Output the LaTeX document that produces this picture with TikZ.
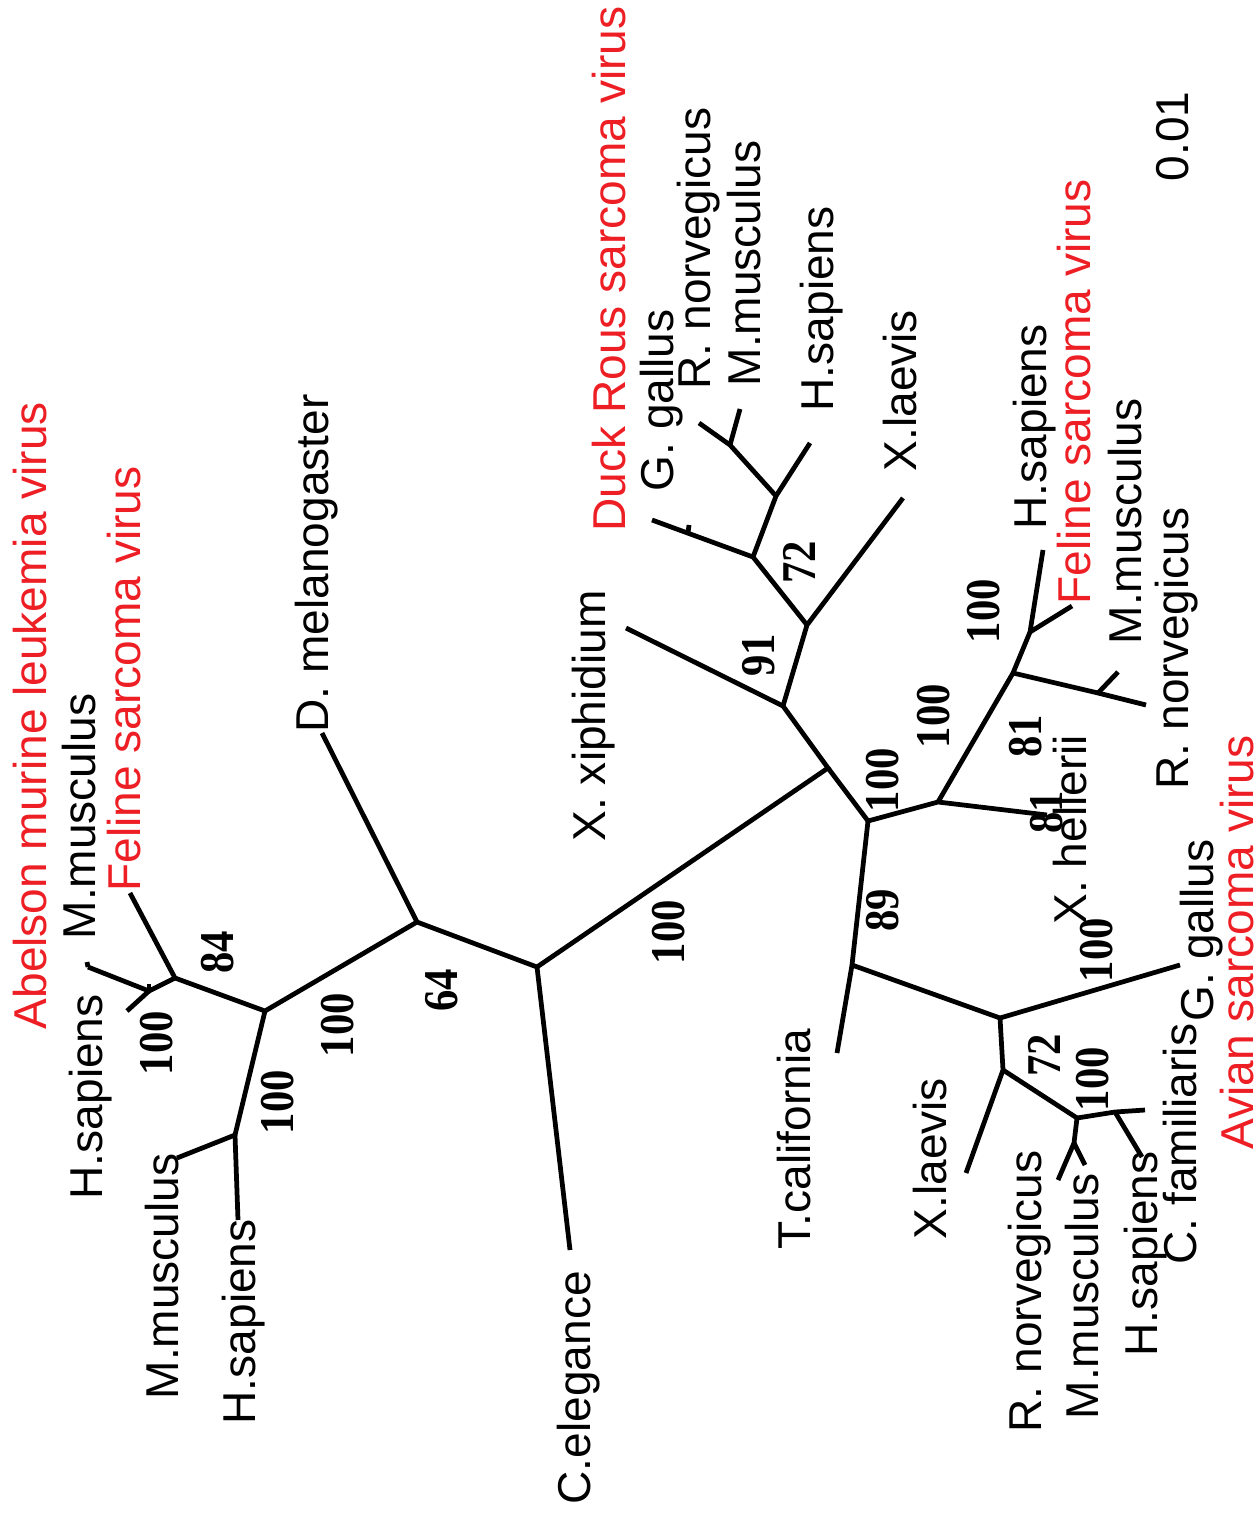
\documentclass[tikz,border=0pt]{standalone}
\usepackage{fontspec}
\setmainfont{Liberation Sans}
\newfontfamily\bootfont{Liberation Serif}
\usepackage{tikz}
\definecolor{virusred}{RGB}{237,30,36}

\begin{document}
\begin{tikzpicture}[x=0.01cm, y=-0.01cm,
  branch/.style={line width=1.35pt},
  taxon/.style={rotate=90, anchor=base west, inner sep=0pt, font=\fontsize{13.1}{15}\selectfont},
  virus/.style={taxon, text=virusred},
  boot/.style={rotate=90, xscale=0.88, inner sep=0pt, font=\bootfont\bfseries\fontsize{13.8}{15}\selectfont}]
\useasboundingbox (0,0) rectangle (1257,1516);

% left clade
\coordinate (r0) at (537,967);
\coordinate (n64) at (417,922);
\coordinate (a100) at (265,1011);
\coordinate (a84) at (175,978);
\coordinate (abS) at (149,991);
\coordinate (tAbMm) at (88,967);
\coordinate (tAbHs) at (127,1011);
\coordinate (tAbFe) at (130,893);
\coordinate (b100) at (235,1135);
\coordinate (tMm1) at (177,1158);
\coordinate (tHs1) at (238,1220);
\coordinate (tDm) at (322,733);
\coordinate (tCe) at (570,1250);

% upper right clade
\coordinate (nc) at (828,768);
\coordinate (n91) at (783,706);
\coordinate (tXx) at (626,628);
\coordinate (nXl) at (807,625);
\coordinate (tXl1) at (903,498);
\coordinate (n72) at (753,557);
\coordinate (tGg1) at (652,520);
\coordinate (nGg1) at (688,533);
\coordinate (nHs2) at (776,496);
\coordinate (tHs2) at (810,443);
\coordinate (nRM) at (730,445);
\coordinate (tRn2) at (699,423);
\coordinate (tMm2) at (740,409);

% right clade
\coordinate (n100a) at (868,821);
\coordinate (nXh) at (938,802);
\coordinate (tXh) at (1047,815);
\coordinate (nRM3) at (1013,673);
\coordinate (nHF) at (1030,632);
\coordinate (tHs3) at (1043,550);
\coordinate (tFe3) at (1072,606);
\coordinate (nRn3) at (1098,693);
\coordinate (tRn3) at (1146,705);
\coordinate (tMm3) at (1118,672);

% lower right clade
\coordinate (n89) at (852,965);
\coordinate (tTc) at (837,1053);
\coordinate (nAv) at (1000,1018);
\coordinate (tGg4) at (1180,965);
\coordinate (nX4) at (1003,1070);
\coordinate (tXl4) at (966,1173);
\coordinate (nJ) at (1077,1118);
\coordinate (nK) at (1074,1143);
\coordinate (tRn4) at (1058,1180);
\coordinate (tMm4) at (1085,1165);
\coordinate (nL) at (1115,1112);
\coordinate (tCf) at (1145,1110);
\coordinate (tHs4) at (1142,1157);

\draw[branch] (tCe) -- (r0) -- (n64) -- (a100) -- (a84) -- (tAbFe);
\draw[branch] (n64) -- (tDm);
\draw[branch] (a84) -- (abS) -- (tAbMm);
\draw[branch] (abS) -- (tAbHs);
\draw[branch] (abS) -- ++(0,-7);
\draw[branch] (tAbMm) -- ++(-1,-5);
\draw[branch] (a100) -- (b100) -- (tMm1);
\draw[branch] (b100) -- (tHs1);

\draw[branch] (r0) -- (nc) -- (n91) -- (tXx);
\draw[branch] (n91) -- (nXl) -- (tXl1);
\draw[branch] (nXl) -- (n72) -- (tGg1);
\draw[branch] (nGg1) -- ++(1,-8);
\draw[branch] (n72) -- (nHs2) -- (tHs2);
\draw[branch] (nHs2) -- (nRM) -- (tRn2);
\draw[branch] (nRM) -- (tMm2);

\draw[branch] (nc) -- (n100a) -- (nXh) -- (tXh);
\draw[branch] (nXh) -- (nRM3) -- (nHF) -- (tHs3);
\draw[branch] (nHF) -- (tFe3);
\draw[branch] (nRM3) -- (nRn3) -- (tRn3);
\draw[branch] (nRn3) -- (tMm3);

\draw[branch] (n100a) -- (n89) -- (tTc);
\draw[branch] (n89) -- (nAv) -- (tGg4);
\draw[branch] (nAv) -- (nX4) -- (tXl4);
\draw[branch] (nX4) -- (nJ) -- (nK) -- (tRn4);
\draw[branch] (nK) -- (tMm4);
\draw[branch] (nJ) -- (nL) -- (tCf);
\draw[branch] (nL) -- (tHs4);

% taxa
\node[virus] (lAbelson) at (47,1030) {Abelson murine leukemia virus};
\node[taxon] (lAbMm) at (95,940) {M.musculus};
\node[virus] (lAbFe) at (140,892) {Feline sarcoma virus};
\node[taxon] (lAbHs) at (102,1200) {H.sapiens};
\node[taxon] (lMm1) at (178,1400) {M.musculus};
\node[taxon] (lHs1) at (255,1425) {H.sapiens};
\node[taxon] (lDm) at (328,733) {D. melanogaster};
\node[taxon] (lCe) at (590,1505) {C.elegance};
\node[taxon] (lXx) at (605,842) {X. xiphidium};
\node[virus] (lDuck) at (625,532) {Duck Rous sarcoma virus};
\node[taxon] (lGg1) at (673,492) {G. gallus};
\node[taxon] (lRn2) at (710,390) {R. norvegicus};
\node[taxon] (lMm2) at (760,387) {M.musculus};
\node[taxon] (lHs2) at (833,412) {H.sapiens};
\node[taxon] (lXl1) at (916,472) {X.laevis};
\node[taxon] (lTc) at (810,1250) {T.california};
\node[taxon] (lXl4) at (946,1240) {X.laevis};
\node[taxon] (lHs3) at (1046,530) {H.sapiens};
\node[virus] (lFe3) at (1090,605) {Feline sarcoma virus};
\node[taxon] (lMm3) at (1141,645) {M.musculus};
\node[taxon] (lRn3) at (1188,790) {R. norvegicus};
\node[taxon] (lXh) at (1086,925) {X. hellerii};
\node[taxon] (lGg4) at (1213,1022) {G. gallus};
\node[virus] (lAvian) at (1253,1150) {Avian sarcoma virus};
\node[taxon] (lCf) at (1196,1265) {C. familiaris};
\node[taxon] (lHs4) at (1157,1357) {H.sapiens};
\node[taxon] (lMm4) at (1098,1420) {M.musculus};
\node[taxon] (lRn4) at (1041,1433) {R. norvegicus};
\node[taxon] (lScale) at (1188,182) {0.01};

% bootstrap values
\node[boot] (bA1) at (157,1043) {100};
\node[boot] (bA2) at (218,952) {84};
\node[boot] (bA3) at (278,1102) {100};
\node[boot] (bA4) at (338,1025) {100};
\node[boot] (b64) at (442,990) {64};
\node[boot] (bC) at (669,932) {100};
\node[boot] (b91) at (759,655) {91};
\node[boot] (b72a) at (799,562) {72};
\node[boot] (bR1) at (883,780) {100};
\node[boot] (bR2) at (934,716) {100};
\node[boot] (bR3) at (984,611) {100};
\node[boot] (b81a) at (1026,736) {81};
\node[boot] (b81b) at (1047,812) {81};
\node[boot] (b89) at (883,910) {89};
\node[boot] (bG) at (1097,950) {100};
\node[boot] (b72b) at (1044,1055) {72};
\node[boot] (bL) at (1093,1079) {100};
\end{tikzpicture}
\end{document}
